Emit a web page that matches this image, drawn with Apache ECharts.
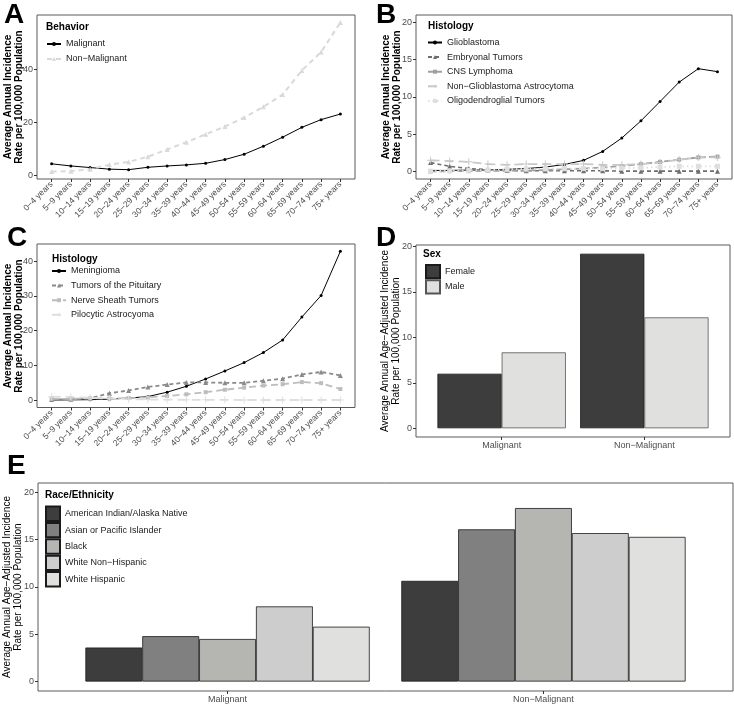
<!DOCTYPE html>
<html><head><meta charset="utf-8">
<script src="https://cdn.jsdelivr.net/npm/echarts@6.0.0/dist/echarts.min.js"></script>
<style>html,body{margin:0;padding:0;background:#fff}#c{width:734px;height:705px}</style>
</head><body><div id="c"></div>
<script>
// ---------- data ----------
const ages = ['0\u22124 years','5\u22129 years','10\u221214 years','15\u221219 years','20\u221224 years','25\u221229 years','30\u221234 years','35\u221239 years','40\u221244 years','45\u221249 years','50\u221254 years','55\u221259 years','60\u221264 years','65\u221269 years','70\u221274 years','75+ years'];

// Panel A: Behavior
const behaviorNames = ['Malignant', 'Non\u2212Malignant'];
const malignantByAge = [4.4, 3.6, 3.0, 2.4, 2.2, 3.1, 3.6, 4.0, 4.6, 6.0, 8.0, 11.0, 14.4, 18.1, 21.0, 23.1];
const nonMalignantByAge = [1.5, 1.6, 2.4, 4.1, 5.1, 7.1, 9.8, 12.5, 15.5, 18.4, 21.8, 25.8, 30.4, 39.5, 46.4, 57.5];

// Panel B: malignant histologies
const histBNames = ['Glioblastoma', 'Embryonal Tumors', 'CNS Lymphoma', 'Non\u2212Glioblastoma Astrocytoma', 'Oligodendroglial Tumors'];
const glioblastoma = [0.15, 0.15, 0.2, 0.2, 0.3, 0.4, 0.6, 0.95, 1.5, 2.7, 4.5, 6.8, 9.4, 12.0, 13.8, 13.4];
const embryonal = [1.2, 0.7, 0.4, 0.25, 0.15, 0.1, 0.1, 0.1, 0.1, 0.1, 0.05, 0.05, 0.05, 0.05, 0.05, 0.05];
const cnsLymphoma = [0.0, 0.05, 0.05, 0.1, 0.1, 0.15, 0.2, 0.3, 0.4, 0.55, 0.75, 1.0, 1.3, 1.6, 1.9, 2.0];
const nonGbmAstro = [1.5, 1.4, 1.3, 1.0, 0.9, 1.0, 1.0, 1.0, 1.0, 0.9, 0.9, 1.0, 1.2, 1.6, 1.9, 1.9];
const oligodendroglial = [0.05, 0.1, 0.15, 0.2, 0.3, 0.35, 0.4, 0.4, 0.4, 0.4, 0.45, 0.5, 0.6, 0.7, 0.7, 0.7];

// Panel C: non-malignant histologies
const histCNames = ['Meningioma', 'Tumors of the Pituitary', 'Nerve Sheath Tumors', 'Pilocytic Astrocyoma'];
const meningioma = [0.05, 0.1, 0.15, 0.3, 0.6, 1.05, 2.3, 4.0, 6.1, 8.4, 10.8, 13.7, 17.3, 23.9, 30.1, 42.8];
const pituitary = [0.2, 0.3, 0.6, 2.0, 2.8, 3.8, 4.5, 5.1, 5.1, 5.0, 5.0, 5.6, 6.2, 7.4, 8.1, 7.1];
const nerveSheath = [0.4, 0.4, 0.5, 0.5, 0.6, 0.8, 1.2, 1.7, 2.3, 3.0, 3.6, 4.2, 4.6, 5.2, 4.9, 3.2];
const pilocytic = [1.0, 0.9, 0.7, 0.45, 0.3, 0.2, 0.15, 0.1, 0.1, 0.1, 0.05, 0.05, 0.05, 0.05, 0.05, 0.05];

// Panel D: sex
const behaviorCats = ['Malignant', 'Non\u2212Malignant'];
const sexNames = ['Female', 'Male'];
const femaleRate = [6.0, 19.2];
const maleRate = [8.35, 12.2];

// Panel E: race/ethnicity
const raceNames = ['American Indian/Alaska Native', 'Asian or Pacific Islander', 'Black', 'White Non\u2212Hispanic', 'White Hispanic'];
const aianRate = [3.6, 10.65];
const apiRate = [4.8, 16.1];
const blackRate = [4.5, 18.35];
const wnhRate = [7.95, 15.7];
const whRate = [5.8, 15.3];

// tick labels
const ticksA = [0, 20, 40];
const ticksB = [0, 5, 10, 15, 20];
const ticksC = [0, 10, 20, 30, 40];
const ticksD = [0, 5, 10, 15, 20];
const ticksE = [0, 5, 10, 15, 20];

// ---------- chart ----------
const FONT = '"Liberation Sans", Arial, Helvetica, sans-serif';
const idx = ages.map((_, i) => i);
const pts = arr => arr.map((v, i) => [i, v]);
const PLUS = 'path://M-0.14,-1H0.14V-0.14H1V0.14H0.14V1H-0.14V0.14H-1V-0.14H-0.14Z';
const tickStyle = {show: true, length: 3, lineStyle: {color: '#333', width: 1}};
const labelBase = {fontSize: 9, color: '#4d4d4d', fontFamily: FONT};
const noLine = {show: false, onZero: false};

function ageX(g) {
  return {type: 'value', gridIndex: g, min: -0.76, max: 15.76,
    axisLine: noLine, splitLine: {show: false},
    axisTick: Object.assign({customValues: idx}, tickStyle),
    axisLabel: Object.assign({}, labelBase, {customValues: idx, formatter: v => ages[Math.round(v)], rotate: 45, fontSize: 8.5, margin: 4})};
}
function valY(g, min, max, ticks, offset) {
  return {type: 'value', gridIndex: g, min: min, max: max, offset: offset || 0,
    axisLine: noLine, splitLine: {show: false},
    axisTick: Object.assign({customValues: ticks}, tickStyle),
    axisLabel: Object.assign({}, labelBase, {customValues: ticks, margin: 4})};
}
function lineSeries(name, data, g, color, width, dash, symbol, size) {
  return {type: 'line', name: name, data: pts(data), xAxisIndex: g, yAxisIndex: g,
    symbol: symbol, symbolSize: size, showSymbol: true, smooth: false,
    lineStyle: {color: color, width: width, type: dash}, itemStyle: {color: color},
    emphasis: {disabled: true}, z: 3};
}
function barSeries(name, data, g, color, borderColor) {
  return {type: 'bar', name: name, data: data, xAxisIndex: g, yAxisIndex: g,
    barGap: 0, barCategoryGap: '10%',
    itemStyle: {color: color, borderColor: borderColor || '#1a1a1a', borderWidth: 0.8},
    emphasis: {disabled: true}};
}
function catX(g) {
  return {type: 'category', gridIndex: g, data: behaviorCats,
    axisLine: noLine,
    axisTick: Object.assign({alignWithLabel: true}, tickStyle),
    axisLabel: Object.assign({}, labelBase, {margin: 4})};
}
const FR = {show: true, borderColor: '#5a5a5a', borderWidth: 1, backgroundColor: 'transparent', containLabel: false, outerBoundsMode: 'none'};
const NOFR = {show: false, containLabel: false, outerBoundsMode: 'none'};
const letter = (t, l, tp) => ({text: t, left: l, top: tp, padding: 0, textStyle: {fontSize: 28, fontWeight: 'bold', color: '#000', fontFamily: FONT}});
const ltitle = (t, l, tp) => ({text: t, left: l, top: tp, padding: 0, textStyle: {fontSize: 10, fontWeight: 'bold', color: '#000', fontFamily: FONT}});
const legText = {fontSize: 9, color: '#1a1a1a', fontFamily: FONT, lineHeight: 10};

const yNameInc = 'Average Annual Incidence\nRate per 100,000 Population';
const yNameAdj = 'Average Annual Age\u2212Adjusted Incidence\nRate per 100,000 Population';
const yTitle = (t, x, y, bold) => ({type: 'text', x: x, y: y, rotation: Math.PI / 2, silent: true,
  style: {text: t, align: 'center', verticalAlign: 'middle', fontSize: 10, lineHeight: 11,
    fontWeight: bold ? 'bold' : 'normal', fontFamily: FONT, fill: '#000'}});

const lineLegend = (names, l, t, gap) => ({data: names, orient: 'vertical', left: l, top: t, itemWidth: 14, itemHeight: 5,
  itemGap: gap, padding: 0, selectedMode: false, textStyle: legText});
const boxLegend = (names, l, t, s) => ({data: names, orient: 'vertical', left: l, top: t, icon: 'rect', itemWidth: 14, itemHeight: s,
  itemGap: 0, padding: 0, selectedMode: false, textStyle: legText});

const option = {
  animation: false,
  backgroundColor: '#fff',
  textStyle: {fontFamily: FONT},
  title: [
    letter('A', 4, 1), letter('B', 376, 1), letter('C', 7, 224), letter('D', 376, 224), letter('E', 7, 452),
    ltitle('Behavior', 46, 22), ltitle('Histology', 428, 21), ltitle('Histology', 52, 254),
    ltitle('Sex', 423, 249), ltitle('Race/Ethnicity', 45, 490)
  ],
  graphic: [
    yTitle(yNameInc, 13.5, 97, true),
    yTitle(yNameInc, 391.5, 97, true),
    yTitle(yNameInc, 14, 326, true),
    yTitle(yNameAdj, 391, 341, false),
    yTitle(yNameAdj, 13, 587, false)
  ],
  grid: [
    Object.assign({left: 37, top: 15, width: 318, height: 164}, FR),
    Object.assign({left: 416, top: 15, width: 316, height: 164}, FR),
    Object.assign({left: 37, top: 244, width: 318, height: 163.5}, FR),
    Object.assign({left: 430.3, top: 245, width: 285.4, height: 192}, NOFR),
    Object.assign({left: 69.6, top: 483, width: 631.8, height: 208}, NOFR),
    Object.assign({left: 416, top: 245, width: 314, height: 192}, FR),
    Object.assign({left: 38, top: 483, width: 695, height: 208}, FR)
  ],
  xAxis: [ageX(0), ageX(1), ageX(2), catX(3), catX(4),
    {type: 'value', gridIndex: 5, show: false}, {type: 'value', gridIndex: 6, show: false}],
  yAxis: [
    valY(0, -1.3, 60.3, ticksA),
    valY(1, -1, 21, ticksB),
    valY(2, -2.1, 44.9, ticksC),
    valY(3, -0.96, 20.16, ticksD, 14.3),
    valY(4, -1, 21, ticksE, 31.6),
    {type: 'value', gridIndex: 5, show: false}, {type: 'value', gridIndex: 6, show: false}
  ],
  legend: [
    lineLegend(behaviorNames, 46, 39, 5),
    lineLegend(histBNames, 427, 37.5, 4.6),
    lineLegend(histCNames, 51, 266, 4.6),
    boxLegend(sexNames, 425, 264, 13.3),
    boxLegend(raceNames, 45, 505.5, 14.4)
  ],
  series: [
    lineSeries(behaviorNames[0], malignantByAge, 0, '#000000', 1, 'solid', 'circle', 3),
    lineSeries(behaviorNames[1], nonMalignantByAge, 0, '#d9d9d9', 2, [5, 4], 'triangle', 5),

    lineSeries(histBNames[0], glioblastoma, 1, '#000000', 1, 'solid', 'circle', 3),
    lineSeries(histBNames[1], embryonal, 1, '#6e6e6e', 1.6, [4, 3], 'triangle', 5),
    lineSeries(histBNames[2], cnsLymphoma, 1, '#a0a0a0', 1.8, [6, 3], 'rect', 4),
    lineSeries(histBNames[3], nonGbmAstro, 1, '#c8c8c8', 1.8, [9, 5], PLUS, 7),
    lineSeries(histBNames[4], oligodendroglial, 1, '#dedede', 1.8, [1.5, 3], 'rect', 5),

    lineSeries(histCNames[0], meningioma, 2, '#000000', 1, 'solid', 'circle', 3),
    lineSeries(histCNames[1], pituitary, 2, '#8a8a8a', 1.8, [4, 3], 'triangle', 5),
    lineSeries(histCNames[2], nerveSheath, 2, '#bdbdbd', 1.8, [7, 4], 'rect', 4),
    lineSeries(histCNames[3], pilocytic, 2, '#dedede', 1.8, [9, 5], PLUS, 7),

    barSeries(sexNames[0], femaleRate, 3, '#3d3d3d', '#1a1a1a'),
    barSeries(sexNames[1], maleRate, 3, '#e0e0de', '#555555'),

    barSeries(raceNames[0], aianRate, 4, '#3d3d3d'),
    barSeries(raceNames[1], apiRate, 4, '#808080'),
    barSeries(raceNames[2], blackRate, 4, '#b5b5b2'),
    barSeries(raceNames[3], wnhRate, 4, '#cdcdcd'),
    barSeries(raceNames[4], whRate, 4, '#e0e0de')
  ]
};
const chart = echarts.init(document.getElementById('c'));
chart.setOption(option);
</script></body></html>
